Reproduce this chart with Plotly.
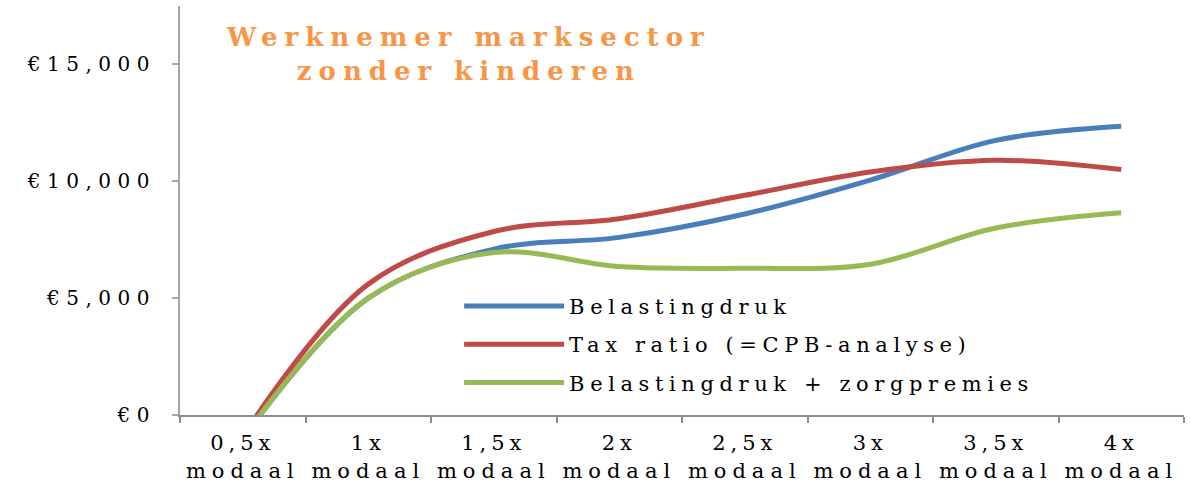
import plotly.graph_objects as go

categories = ["0,5x", "1x", "1,5x", "2x", "2,5x", "3x", "3,5x", "4x"]
category_sub = "modaal"
belastingdruk = [-1000, 5000, 7100, 7600, 8600, 10050, 11750, 12350]
tax_ratio = [-900, 5600, 7850, 8400, 9400, 10400, 10900, 10500]
belasting_zorg = [-1000, 5000, 6950, 6350, 6280, 6450, 8000, 8650]
series_names = ["Belastingdruk", "Tax ratio (=CPB-analyse)", "Belastingdruk + zorgpremies"]
series_colors = ["#4A7EBB", "#BE4B48", "#98B954"]
y_tickvals = [0, 5000, 10000, 15000]
y_ticktext = ["€0", "€5,000", "€10,000", "€15,000"]
title_lines = ["Werknemer marksector", "zonder kinderen"]

font_family = "DejaVu Serif"


def spaced(txt, px):
    return f'<span style="letter-spacing:{px}px">{txt}</span>'


fig = go.Figure()
for name, vals, col in zip(series_names, [belastingdruk, tax_ratio, belasting_zorg], series_colors):
    fig.add_trace(go.Scatter(
        x=categories, y=vals, name=spaced(name, 5.6), mode="lines", legendgroup=name,
        line=dict(color=col, width=5, shape="spline", smoothing=1.0),
    ))

fig.update_layout(
    width=1191, height=484,
    margin=dict(l=180, r=7, t=6, b=69),
    paper_bgcolor="white", plot_bgcolor="white",
    font=dict(family=font_family, size=20, color="black"),
    showlegend=True,
    legend=dict(x=0.278, y=0.173, xanchor="left", yanchor="middle",
                bgcolor="rgba(255,255,255,0)", font=dict(size=21, family=font_family),
                itemwidth=100, tracegroupgap=8),
    xaxis=dict(
        type="category", showgrid=False, showline=True, linecolor="#8c8c8c", linewidth=2,
        ticks="outside", tickson="boundaries", ticklen=6, tickcolor="#8c8c8c", tickwidth=2,
        tickmode="array", tickvals=categories, tickangle=0,
        ticktext=[spaced(c, 5) + "<br>" + spaced(category_sub, 6) for c in categories],
        tickfont=dict(size=21, family=font_family, color="black"),
        ticklabelstandoff=8,
        range=[-0.5, 7.5], automargin=False,
    ),
    yaxis=dict(
        range=[0, 17500], showgrid=False, showline=True, linecolor="#a6a6a6", linewidth=2,
        ticks="outside", ticklen=6, tickcolor="#a6a6a6", tickwidth=2,
        tickvals=y_tickvals, ticktext=[spaced(t, 6.5) for t in y_ticktext], zeroline=False,
        tickfont=dict(size=20, family=font_family, color="black"),
        ticklabelstandoff=12, automargin=False,
    ),
    annotations=[dict(
        text="<br>".join(spaced(t, 7) for t in title_lines), xref="paper", yref="paper",
        x=0.287, y=0.966, xanchor="center", yanchor="top", showarrow=False,
        font=dict(size=26, family=font_family, color="#F79646", weight="bold"), align="center",
    )],
)

fig.write_html("out.html", post_script="document.body.style.margin='0';",
               config={"displayModeBar": False})
